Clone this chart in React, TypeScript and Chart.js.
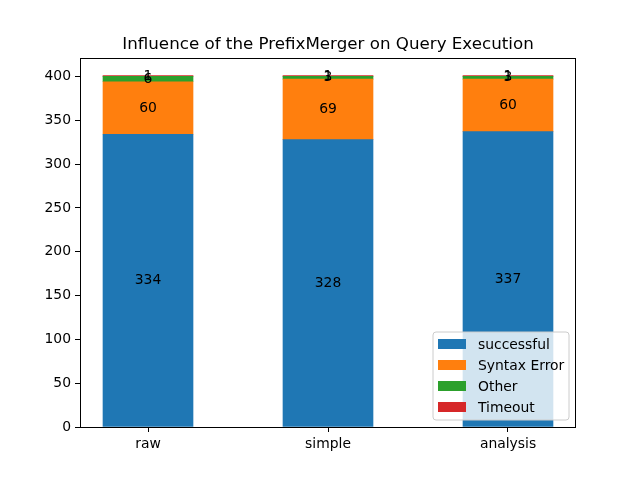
import React, { useEffect, useRef } from "react";
import { Chart, registerables } from "chart.js";

Chart.register(...registerables);

const categories = ["raw", "simple", "analysis"];
const successful = [334, 328, 337];
const syntaxError = [60, 69, 60];
const other = [6, 3, 3];
const timeout = [1, 1, 1];
const seriesNames = ["successful", "Syntax Error", "Other", "Timeout"];
const colors = ["#1f77b4", "#ff7f0e", "#2ca02c", "#d62728"];
const titleText = "Influence of the PrefixMerger on Query Execution";

const FONT = "DejaVu Sans";

export default function App() {
  const ref = useRef<HTMLCanvasElement>(null);
  useEffect(() => {
    document.body.style.margin = "0";
    const series = [successful, syntaxError, other, timeout];
    const datasets = series.map((vals, si) => ({
      label: seriesNames[si],
      data: vals.map((v, i) => ({ x: i, y: v })),
      backgroundColor: colors[si],
      borderWidth: 0,
      barThickness: 90,
    }));

    const overlay = {
      id: "overlay",
      afterDatasetsDraw(chart: any) {
        const ctx = chart.ctx;
        const a = chart.chartArea;
        // data labels
        ctx.save();
        ctx.fillStyle = "#000";
        ctx.font = `13.9px "${FONT}"`;
        ctx.textAlign = "center";
        ctx.textBaseline = "middle";
        chart.data.datasets.forEach((ds: any, di: number) => {
          const meta = chart.getDatasetMeta(di);
          meta.data.forEach((el: any, i: number) => {
            const cy = (el.y + el.base) / 2;
            ctx.fillText(String(ds.data[i].y), el.x, cy);
          });
        });
        ctx.restore();
        // spines
        ctx.save();
        ctx.strokeStyle = "#000";
        ctx.lineWidth = 1;
        ctx.strokeRect(a.left + 0.5, a.top + 0.5, a.right - a.left - 1, a.bottom - a.top);
        ctx.restore();
        // title
        ctx.save();
        ctx.fillStyle = "#000";
        ctx.font = `16.7px "${FONT}"`;
        ctx.textAlign = "center";
        ctx.textBaseline = "alphabetic";
        ctx.fillText(titleText, (a.left + a.right) / 2, 49);
        ctx.restore();
        // legend
        ctx.save();
        const lx = 433, ly = 332, lw = 136, lh = 88, r = 3;
        ctx.beginPath();
        ctx.moveTo(lx + r, ly);
        ctx.arcTo(lx + lw, ly, lx + lw, ly + lh, r);
        ctx.arcTo(lx + lw, ly + lh, lx, ly + lh, r);
        ctx.arcTo(lx, ly + lh, lx, ly, r);
        ctx.arcTo(lx, ly, lx + lw, ly, r);
        ctx.closePath();
        ctx.fillStyle = "rgba(255,255,255,0.8)";
        ctx.fill();
        ctx.strokeStyle = "#cccccc";
        ctx.lineWidth = 1;
        ctx.stroke();
        ctx.font = `13.9px "${FONT}"`;
        ctx.textAlign = "left";
        ctx.textBaseline = "middle";
        seriesNames.forEach((name, i) => {
          const cy = 344 + i * 21;
          ctx.fillStyle = colors[i];
          ctx.fillRect(438, cy - 5, 28, 10);
          ctx.fillStyle = "#000";
          ctx.fillText(name, 478, cy + 1);
        });
        ctx.restore();
      },
    };

    const chart = new Chart(ref.current!, {
      type: "bar",
      data: { datasets: datasets as any },
      options: {
        animation: false,
        responsive: false,
        layout: { padding: { top: 58, right: 64, left: 0, bottom: 0 } },
        plugins: { legend: { display: false }, title: { display: false }, tooltip: { enabled: false } },
        scales: {
          x: {
            type: "linear",
            stacked: true,
            offset: false,
            min: -0.3778,
            max: 2.3778,
            grid: { drawOnChartArea: false, drawTicks: true, tickLength: 5, color: "#000", offset: false },
            border: { display: false },
            ticks: {
              stepSize: 1,
              includeBounds: false,
              padding: 4,
              color: "#000",
              font: { family: FONT, size: 13.9 },
              callback: (v: any) => categories[v as number] ?? "",
            },
            afterFit: (s: any) => { s.height = 53; },
          },
          y: {
            stacked: true,
            min: 0,
            max: 421.05,
            grid: { drawOnChartArea: false, drawTicks: true, tickLength: 5, color: "#000" },
            border: { display: false },
            ticks: {
              stepSize: 50,
              includeBounds: false,
              padding: 4,
              color: "#000",
              font: { family: FONT, size: 13.9 },
            },
            afterFit: (s: any) => { s.width = 80; },
          },
        },
      },
      plugins: [overlay],
    });
    return () => chart.destroy();
  }, []);
  return <canvas ref={ref} width={640} height={480} style={{ display: "block" }} />;
}
